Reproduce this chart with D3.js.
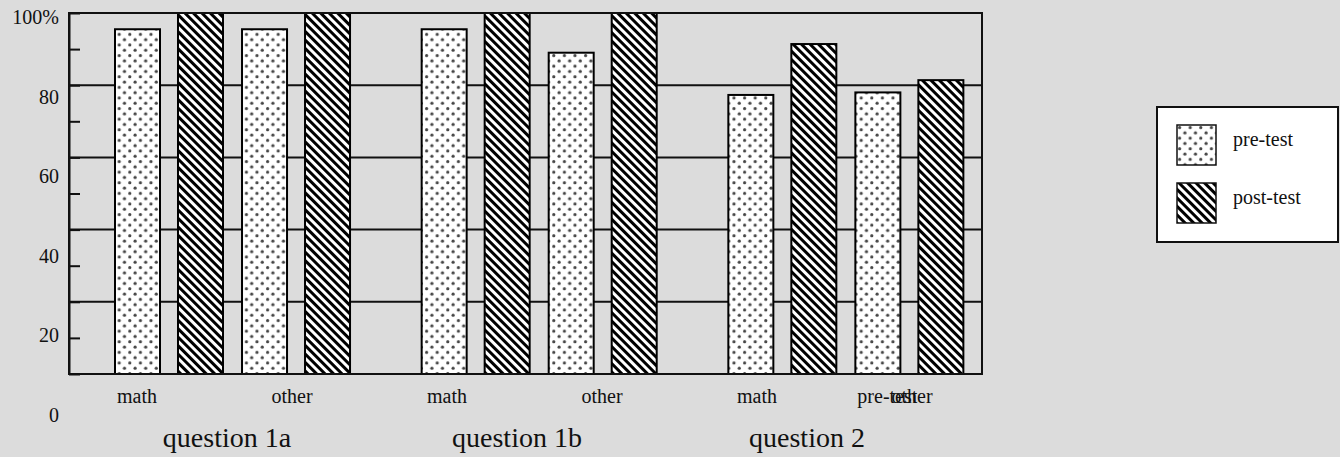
<!DOCTYPE html>
<html><head><meta charset="utf-8">
<script src="https://cdn.jsdelivr.net/npm/d3@7"></script>
<style>html,body{margin:0;padding:0;background:#dcdcdc}svg{display:block}</style>
</head><body><svg id="c" width="1340" height="457"></svg>
<script>
const groups = ["question 1a", "question 1b", "question 2"];
const subjects = ["math", "other"];
const series = ["pre-test", "post-test"];
const preTest = [95.5, 95.5, 95.5, 89, 77.3, 78];
const postTest = [100, 100, 100, 100, 91.4, 81.4];
const yTickValues = [0, 20, 40, 60, 80, 100];
const yTickLabels = ["0", "20", "40", "60", "80", "100%"];
const strayLabel = "pre-test";

const svg = d3.select("#c");
const font = "'Liberation Serif','Times New Roman',serif";
const plot = {left: 69, right: 982, top: 13, bottom: 374};

const y = d3.scaleLinear().domain([0, 100]).range([plot.bottom, plot.top]);
const yLabel = d3.scaleLinear().domain([0, 100]).range([422, 24]);
const xGroup = d3.scaleBand().domain(groups).range([115, 115 + 3 * 306.67]);
const xSub = d3.scaleBand().domain(subjects).range([0, 235]).paddingInner(0.15);
const xSeries = d3.scaleBand().domain(series).range([0, 108]).paddingInner(0.2857);
const rows = groups.flatMap((g, gi) => subjects.map((s, si) => ({g, s, i: gi * 2 + si, key: g + "|" + s})));
const xLabel = d3.scalePoint().domain(rows.map(r => r.key)).range([137, 912]);
const xGroupLabel = d3.scalePoint().domain(groups).range([227, 807]);

// patterns
const defs = svg.append("defs");
const dot = defs.append("pattern").attr("id", "dots").attr("patternUnits", "userSpaceOnUse")
  .attr("width", 10.6).attr("height", 10.6);
dot.append("rect").attr("width", 10.6).attr("height", 10.6).attr("fill", "#fff");
dot.append("circle").attr("cx", 2.6).attr("cy", 2.6).attr("r", 1.6).attr("fill", "#444");
dot.append("circle").attr("cx", 7.9).attr("cy", 7.9).attr("r", 1.6).attr("fill", "#444");
const hatch = defs.append("pattern").attr("id", "hatch").attr("patternUnits", "userSpaceOnUse")
  .attr("width", 6).attr("height", 6).attr("patternTransform", "rotate(-45)");
hatch.append("rect").attr("width", 6).attr("height", 6).attr("fill", "#fff");
hatch.append("rect").attr("width", 3).attr("height", 6).attr("fill", "#000");
const fills = {"pre-test": "url(#dots)", "post-test": "url(#hatch)"};

// gridlines
svg.append("g").selectAll("line").data(yTickValues.filter(v => v > 0 && v < 100)).join("line")
  .attr("x1", plot.left).attr("x2", plot.right).attr("y1", d => y(d)).attr("y2", d => y(d))
  .attr("stroke", "#111").attr("stroke-width", 2);

// bars
const bars = rows.flatMap(r => [
  {r, s: "pre-test", v: preTest[r.i]},
  {r, s: "post-test", v: postTest[r.i]}
]);
svg.append("g").selectAll("rect").data(bars).join("rect")
  .attr("x", d => xGroup(d.r.g) + xSub(d.r.s) + xSeries(d.s))
  .attr("width", xSeries.bandwidth())
  .attr("y", d => y(d.v))
  .attr("height", d => y(0) - y(d.v))
  .attr("fill", d => fills[d.s])
  .attr("stroke", "#000").attr("stroke-width", 2);

// frame
svg.append("path")
  .attr("d", `M${plot.left},${y(100)}H${plot.right}V${y(0)}H${plot.left}Z`)
  .attr("fill", "none").attr("stroke", "#111").attr("stroke-width", 2);

// y axis with inward ticks
const axis = d3.axisRight(y).tickValues(d3.range(0, 101, 10)).tickSize(11).tickSizeOuter(0).tickFormat("");
const ax = svg.append("g").attr("transform", `translate(${plot.left},0)`).call(axis);
ax.select(".domain").attr("stroke", "#111").attr("stroke-width", 2);
ax.selectAll(".tick line").attr("stroke", "#111").attr("stroke-width", 2);

// y labels
svg.append("g").selectAll("text").data(yTickValues).join("text")
  .attr("x", 59).attr("y", d => yLabel(d)).attr("text-anchor", "end")
  .attr("font-family", font).attr("font-size", 20).attr("fill", "#111")
  .text((d, i) => yTickLabels[i]);

// sub labels
svg.append("g").selectAll("text").data(rows).join("text")
  .attr("x", d => xLabel(d.key)).attr("y", 403).attr("text-anchor", "middle")
  .attr("font-family", font).attr("font-size", 20).attr("fill", "#111")
  .text(d => d.s);

// stray overlapping label (as in reference)
svg.append("text")
  .attr("x", xGroup("question 2") + xSub("other") + 2).attr("y", 403)
  .attr("font-family", font).attr("font-size", 20).attr("fill", "#111")
  .text(strayLabel);

// group labels
svg.append("g").selectAll("text").data(groups).join("text")
  .attr("x", d => xGroupLabel(d)).attr("y", 447).attr("text-anchor", "middle")
  .attr("font-family", font).attr("font-size", 28).attr("fill", "#111")
  .text(d => d);

// legend
const lg = svg.append("g");
lg.append("rect").attr("x", 1157).attr("y", 107).attr("width", 181).attr("height", 135)
  .attr("fill", "#fff").attr("stroke", "#111").attr("stroke-width", 2);
const li = lg.selectAll("g.item").data(series).join("g").attr("class", "item")
  .attr("transform", (d, i) => `translate(1177,${125 + i * 58})`);
li.append("rect").attr("width", 39).attr("height", 40).attr("fill", d => fills[d])
  .attr("stroke", "#111").attr("stroke-width", 1.5);
li.append("text").attr("x", 56).attr("y", 21).attr("font-family", font).attr("font-size", 20)
  .attr("fill", "#111").text(d => d);
</script></body></html>
